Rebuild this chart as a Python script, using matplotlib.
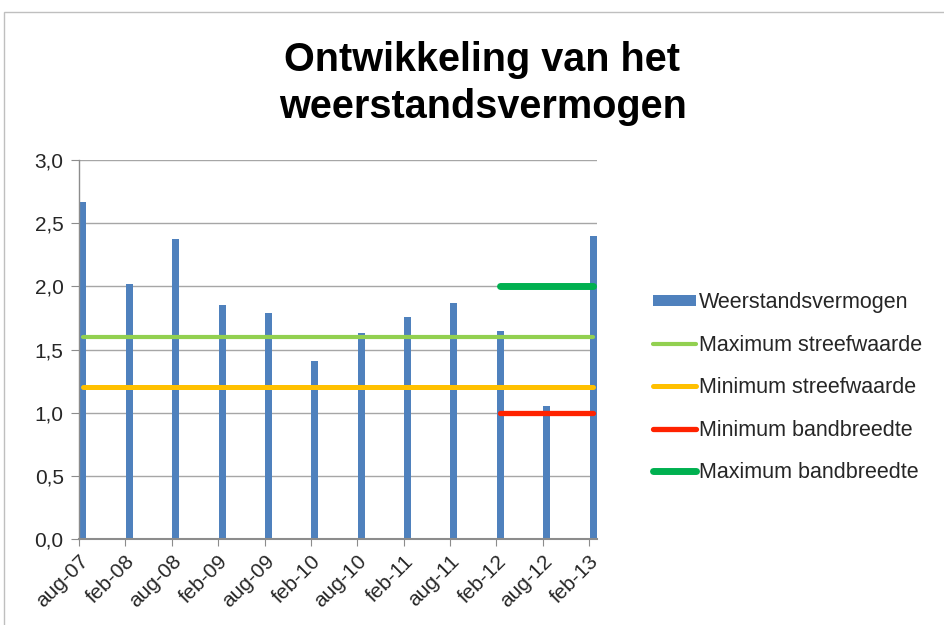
import matplotlib
matplotlib.use("Agg")
import matplotlib.pyplot as plt
from matplotlib.patches import Rectangle

plt.rcParams['font.family'] = ['Liberation Sans', 'DejaVu Sans']

categories = ["aug-07", "feb-08", "aug-08", "feb-09", "aug-09", "feb-10",
              "aug-10", "feb-11", "aug-11", "feb-12", "aug-12", "feb-13"]
month_offsets = [0, 6, 12, 18, 24, 30, 36, 42, 48, 54, 60, 66]
weerstand = [2.67, 2.02, 2.375, 1.85, 1.79, 1.41, 1.63, 1.755, 1.865, 1.65, 1.05, 2.395]
max_streef = [1.6] * 12
min_streef = [1.2] * 12
min_band = [None] * 9 + [1.0, 1.0, 1.0]
max_band = [None] * 9 + [2.0, 2.0, 2.0]

W, H = 944, 625
fig = plt.figure(figsize=(W / 100, H / 100), dpi=100)
fig.patch.set_facecolor('white')

# chart border
fig.add_artist(Rectangle((4 / W, -0.05), 1.1, 1 - 12 / H + 0.05, transform=fig.transFigure,
                         fill=False, edgecolor='#BFBFBF', linewidth=1.0))

ax = fig.add_axes([79 / W, 1 - 539 / H, (597 - 79) / W, (539 - 160) / H])

xc = [m + 0.5 for m in month_offsets]
h_bar = ax.bar(xc, weerstand, width=0.9, color='#4F81BD', label='Weerstandsvermogen', zorder=2)

def seg(vals):
    xs = [x for x, v in zip(xc, vals) if v is not None]
    ys = [v for v in vals if v is not None]
    return xs, ys

h1, = ax.plot(*seg(max_streef), color='#92D050', lw=3.0, solid_capstyle='round',
              label='Maximum streefwaarde', zorder=3)
h2, = ax.plot(*seg(min_streef), color='#FFC000', lw=3.6, solid_capstyle='round',
              label='Minimum streefwaarde', zorder=3)
h3, = ax.plot(*seg(min_band), color='#FF2200', lw=3.8, solid_capstyle='round',
              label='Minimum bandbreedte', zorder=3)
h4, = ax.plot(*seg(max_band), color='#00B050', lw=5.0, solid_capstyle='round',
              label='Maximum bandbreedte', zorder=3)

ax.set_xlim(0, 67)
ax.set_ylim(0, 3.0)
yt = [0, 0.5, 1.0, 1.5, 2.0, 2.5, 3.0]
ax.set_yticks(yt)
ax.set_yticklabels([f"{v:.1f}".replace('.', ',') for v in yt])
ax.set_xticks(month_offsets)
ax.set_xticklabels(categories, rotation=45, ha='right', va='top', rotation_mode='anchor')

ax.grid(axis='y', color='#A6A6A6', linewidth=1.0, zorder=0)
ax.set_axisbelow(True)
for s in ['top', 'right']:
    ax.spines[s].set_visible(False)
for s in ['left', 'bottom']:
    ax.spines[s].set_color('#8C8C8C')
    ax.spines[s].set_linewidth(1.0)
ax.spines['bottom'].set_linewidth(1.5)
ax.tick_params(axis='y', length=6, color='#8C8C8C', labelsize=15, labelcolor='#262626', pad=5)
ax.tick_params(axis='x', length=5, color='#8C8C8C', labelsize=15, labelcolor='#262626', pad=4)

fig.text(482 / W, 1 - 71 / H, "Ontwikkeling van het", ha='center', va='baseline',
         fontsize=28.5, fontweight='bold', color='black')
fig.text(483 / W, 1 - 118 / H, "weerstandsvermogen", ha='center', va='baseline',
         fontsize=28.5, fontweight='bold', color='black')

leg = fig.legend(handles=[h_bar, h1, h2, h3, h4],
                 loc='upper left', bbox_to_anchor=(653 / W, 1 - 292 / H),
                 frameon=False, fontsize=15.5, handlelength=2.0, handleheight=0.45,
                 handletextpad=0.15, labelspacing=1.0, borderpad=0, borderaxespad=0)
for t in leg.get_texts():
    t.set_color('#262626')

fig.savefig("out.png", dpi=100, facecolor='white')
